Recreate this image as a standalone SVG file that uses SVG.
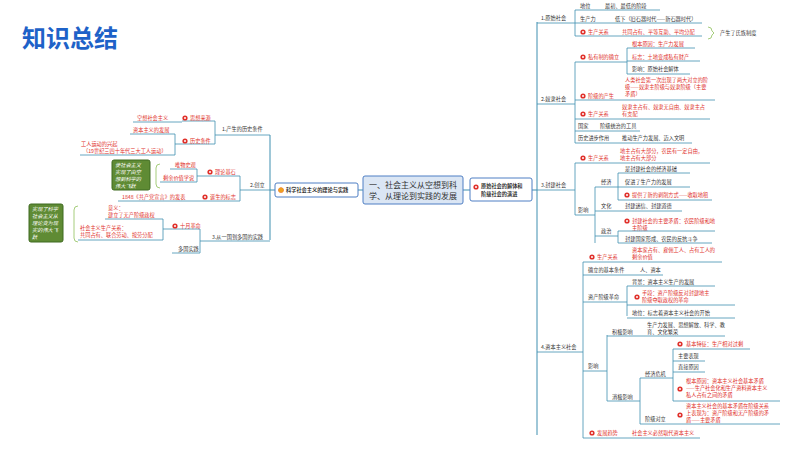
<svg xmlns="http://www.w3.org/2000/svg" width="800" height="450" viewBox="0 0 800 450">
<style>
text{font-family:"Noto Sans CJK SC","Noto Sans",sans-serif;font-size:5.2px;fill:#333}
.r{fill:#e0302a}
.c line,.c path,.c polyline{stroke:#3f8fb0;stroke-width:1;fill:none}
.u{stroke:#3f8fb0;stroke-width:0.8}
.g{fill:#5f8b34;stroke:#3f6a20;stroke-width:1}
.gt{fill:#fff;font-style:italic}
.br{fill:none;stroke:#8fc05a;stroke-width:0.8}
</style>
<defs>
<g id="ic"><circle r="2.6" fill="#e0302a"/><circle r="1" fill="#fff"/></g>
</defs>
<rect width="800" height="450" fill="#fff"/>
<text x="22" y="47" style="font-size:24px;font-weight:bold;fill:#1e62c8">知识总结</text>

<g class="c">
<line x1="358" y1="190" x2="363" y2="190"/><line x1="463" y1="190" x2="470" y2="190"/>
<line x1="532" y1="190" x2="537" y2="190"/>
<line x1="537" y1="22" x2="537" y2="435"/>
<!-- left -->
<line x1="270" y1="190" x2="275" y2="190"/>
<line x1="270" y1="135" x2="270" y2="240"/>
</g>

<g id="center"><rect x="363" y="176" width="100" height="28" rx="2" fill="#dbe6f4" stroke="#4f7fc4"/>
<text x="413" y="188" text-anchor="middle" style="font-size:8px">一、社会主义从空想到科</text>
<text x="413" y="199" text-anchor="middle" style="font-size:8px">学、从理论到实践的发展</text></g>
<g id="left-main"><rect x="275" y="183" width="83" height="14" rx="2" fill="#fff" stroke="#4f7fc4"/>
<use href="#ic" x="281" y="190" style="fill:#f0a020"/><circle cx="281" cy="190" r="2.6" fill="#f0a020"/>
<text x="286" y="192" style="font-weight:bold">科学社会主义的理论与实践</text></g>
<g id="right-main"><rect x="470" y="178" width="62" height="23" rx="2" fill="#fff" stroke="#4f7fc4"/>
<use href="#ic" x="476" y="187"/>
<text x="481" y="188" style="font-weight:bold">原始社会的解体和</text><text x="481" y="196" style="font-weight:bold">阶级社会的演进</text></g>

<!-- LEFT BRANCHES -->
<g id="l1">
<text x="222" y="131">1.产生的历史条件</text><line class="u" x1="220" y1="135" x2="270" y2="135"/>
<polyline points="220,135 215,135 215,121 182,121" class="u" fill="none"/>
<polyline points="215,135 215,144 182,144" class="u" fill="none"/>
<use href="#ic" x="185" y="118"/><text x="190" y="120" class="r">思想来源</text>
<text x="137" y="120" class="r">空想社会主义</text><line class="u" x1="133" y1="122" x2="182" y2="122"/>
<use href="#ic" x="185" y="141"/><text x="190" y="143" class="r">历史条件</text>
<polyline points="182,144 175,144 175,134 130,134" class="u" fill="none"/>
<polyline points="175,144 175,155 80,155" class="u" fill="none"/>
<text x="133" y="132" class="r">资本主义的发展</text>
<text x="81" y="146" class="r">工人运动的兴起</text>
<text x="83" y="153" class="r">（19世纪三四十年代三大工人运动）</text>
</g>
<g id="l2">
<text x="250" y="187">2.创立</text><line class="u" x1="245" y1="190" x2="270" y2="190"/>
<polyline points="245,190 240,190 240,176 205,176" class="u" fill="none"/>
<polyline points="240,190 240,201 205,201" class="u" fill="none"/>
<use href="#ic" x="210" y="172"/><text x="215" y="174" class="r">理论基石</text>
<polyline points="205,176 197,176 197,169 170,169" class="u" fill="none"/>
<polyline points="197,176 197,182 160,182" class="u" fill="none"/>
<text x="175" y="167" class="r">唯物史观</text><text x="163" y="180" class="r">剩余价值学说</text>
<path class="br" d="M160,164 Q156,164 156,168 L156,184 Q156,188 160,188"/>
<rect class="g" x="112" y="160" width="38" height="30" rx="2"/>
<text x="115" y="167" class="gt">使社会主义</text><text x="115" y="174" class="gt">实现了由空</text><text x="115" y="181" class="gt">想到科学的</text><text x="115" y="188" class="gt">伟大飞跃</text>
<use href="#ic" x="205" y="197"/><text x="210" y="199" class="r">诞生的标志</text>
<text x="122" y="199" class="r">1848《共产党宣言》的发表</text><line class="u" x1="118" y1="201" x2="205" y2="201"/>
</g>
<g id="l3">
<text x="212" y="239">3.从一国到多国的实践</text><line class="u" x1="208" y1="241" x2="270" y2="241"/>
<polyline points="208,241 200,241 200,229 172,229" class="u" fill="none"/>
<polyline points="200,241 200,253 172,253" class="u" fill="none"/>
<use href="#ic" x="175" y="226"/><text x="180" y="228" class="r">十月革命</text>
<polyline points="172,229 163,229 163,219 105,219" class="u" fill="none"/>
<polyline points="163,229 163,240 78,240" class="u" fill="none"/>
<text x="108" y="210" class="r">意义：</text><text x="108" y="217" class="r">建立了无产阶级政权</text>
<text x="80" y="230" class="r">社会主义生产关系：</text><text x="80" y="237" class="r">共同占有、联合劳动、按劳分配</text>
<text x="178" y="251">多国实践</text>
<path class="br" d="M78,206 Q74,206 74,210 L74,238 Q74,242 78,242"/>
<rect class="g" x="29" y="204" width="34" height="38" rx="2"/>
<text x="32" y="211" class="gt">实现了科学</text><text x="32" y="218" class="gt">社会主义从</text><text x="32" y="225" class="gt">理论变为现</text><text x="32" y="232" class="gt">实的伟大飞</text><text x="32" y="239" class="gt">跃</text>
</g>

<!-- RIGHT -->
<g id="r1">
<text x="541" y="20">1.原始社会</text><line class="u" x1="537" y1="23" x2="575" y2="23"/>
<line class="u" x1="575" y1="10" x2="575" y2="36"/>
<text x="580" y="8">地位</text><text x="605" y="8">最初、最低的阶段</text><line class="u" x1="575" y1="10" x2="660" y2="10"/>
<text x="580" y="21">生产力</text><text x="615" y="21">低下（旧石器时代——新石器时代）</text><line class="u" x1="575" y1="23" x2="702" y2="23"/>
<use href="#ic" x="583" y="32"/><text x="588" y="34" class="r">生产关系</text><text x="622" y="34" class="r">共同占有、平等互助、平均分配</text><line class="u" x1="575" y1="36" x2="702" y2="36"/>
<path class="br" d="M708,27 Q712,27 712,31 L714,33 L712,35 Q712,39 708,39"/>
<text x="720" y="35">产生了氏族制度</text>
</g>
<g id="r2">
<text x="541" y="101">2.奴隶社会</text><line class="u" x1="537" y1="104" x2="575" y2="104"/>
<line class="u" x1="575" y1="62" x2="575" y2="143"/>
<use href="#ic" x="583" y="57"/><text x="588" y="59" class="r">私有制的确立</text><line class="u" x1="575" y1="62" x2="627" y2="62"/>
<line class="u" x1="627" y1="48" x2="627" y2="74"/>
<text x="632" y="46" class="r">根本原因：生产力发展</text><line class="u" x1="627" y1="48" x2="695" y2="48"/>
<text x="632" y="59" class="r">标志：土地变成私有财产</text><line class="u" x1="627" y1="61" x2="700" y2="61"/>
<text x="632" y="71">影响：原始社会解体</text><line class="u" x1="627" y1="74" x2="690" y2="74"/>
<use href="#ic" x="583" y="96"/><text x="588" y="98" class="r">阶级的产生</text>
<text x="625" y="82" class="r">人类社会第一次出现了两大对立的阶</text><text x="625" y="89" class="r">级——奴隶主阶级与奴隶阶级（主要</text><text x="625" y="96" class="r">矛盾）</text>
<line class="u" x1="575" y1="100" x2="715" y2="100"/>
<use href="#ic" x="583" y="114"/><text x="588" y="116" class="r">生产关系</text>
<text x="622" y="109" class="r">奴隶主占有、奴隶无自由、奴隶主占</text><text x="622" y="116" class="r">有支配</text>
<line class="u" x1="575" y1="119" x2="710" y2="119"/>
<text x="578" y="128">国家</text><text x="600" y="128">阶级统治的工具</text><line class="u" x1="575" y1="131" x2="640" y2="131"/>
<text x="578" y="140">历史进步作用</text><text x="622" y="140">推动生产力发展、迈入文明</text><line class="u" x1="575" y1="143" x2="692" y2="143"/>
</g>
<g id="r3">
<text x="541" y="187">3.封建社会</text><line class="u" x1="537" y1="190" x2="575" y2="190"/>
<line class="u" x1="575" y1="163" x2="575" y2="215"/>
<use href="#ic" x="583" y="158"/><text x="588" y="160" class="r">生产关系</text>
<text x="620" y="153" class="r">地主占有大部分，农民有一定自由，</text><text x="620" y="160" class="r">地主占有大部分</text>
<line class="u" x1="575" y1="163" x2="710" y2="163"/>
<text x="578" y="212">影响</text><line class="u" x1="575" y1="215" x2="595" y2="215"/>
<line class="u" x1="595" y1="187" x2="595" y2="243"/>
<text x="601" y="184">经济</text><line class="u" x1="595" y1="187" x2="618" y2="187"/>
<line class="u" x1="618" y1="173" x2="618" y2="200"/>
<text x="625" y="171">是封建社会的经济基础</text><line class="u" x1="618" y1="173" x2="690" y2="173"/>
<text x="625" y="184">促进了生产力的发展</text><line class="u" x1="618" y1="187" x2="690" y2="187"/>
<use href="#ic" x="627" y="195"/><text x="632" y="197" class="r">提供了新的剥削方式——收取地租</text><line class="u" x1="618" y1="200" x2="712" y2="200"/>
<text x="601" y="208">文化</text><text x="625" y="208">封建迷信、封建道德</text><line class="u" x1="595" y1="211" x2="682" y2="211"/>
<text x="601" y="233">政治</text><line class="u" x1="595" y1="236" x2="618" y2="236"/>
<line class="u" x1="618" y1="231" x2="618" y2="243"/>
<use href="#ic" x="627" y="221"/><text x="632" y="223" class="r">封建社会的主要矛盾：农民阶级和地</text><text x="632" y="230" class="r">主阶级</text><line class="u" x1="618" y1="231" x2="715" y2="231"/>
<text x="625" y="241">封建国家形成、农民的反抗斗争</text><line class="u" x1="618" y1="243" x2="712" y2="243"/>
</g>
<g id="r4">
<text x="541" y="349">4.资本主义社会</text><line class="u" x1="537" y1="352" x2="583" y2="352"/>
<line class="u" x1="583" y1="262" x2="583" y2="438"/>
<use href="#ic" x="592" y="257"/><text x="597" y="259" class="r">生产关系</text>
<text x="632" y="252" class="r">资本家占有、雇佣工人、占有工人的</text><text x="632" y="259" class="r">剩余价值</text>
<line class="u" x1="583" y1="262" x2="722" y2="262"/>
<text x="588" y="272">确立的基本条件</text><text x="640" y="272">人、资本</text><line class="u" x1="583" y1="275" x2="663" y2="275"/>
<text x="588" y="299">资产阶级革命</text><line class="u" x1="583" y1="302" x2="627" y2="302"/>
<line class="u" x1="627" y1="286" x2="627" y2="316"/>
<text x="632" y="284">背景：资本主义生产的发展</text><line class="u" x1="627" y1="286" x2="715" y2="286"/>
<use href="#ic" x="637" y="297"/><text x="642" y="295" class="r">手段：资产阶级反对封建地主</text><text x="642" y="302" class="r">阶级夺取政权的革命</text><line class="u" x1="627" y1="305" x2="735" y2="305"/>
<text x="632" y="315">地位：标志着资本主义社会的开始</text><line class="u" x1="627" y1="318" x2="735" y2="318"/>
<text x="588" y="368">影响</text><line class="u" x1="583" y1="371" x2="607" y2="371"/>
<line class="u" x1="607" y1="335" x2="607" y2="401"/>
<text x="612" y="334">积极影响</text><line class="u" x1="607" y1="336" x2="645" y2="336"/>
<text x="647" y="327">生产力发展、思想解放、科学、教</text><text x="647" y="334">育、文化繁荣</text><line class="u" x1="645" y1="336" x2="725" y2="336"/>
<text x="612" y="399">消极影响</text><line class="u" x1="607" y1="401" x2="640" y2="401"/>
<line class="u" x1="640" y1="378" x2="640" y2="424"/>
<text x="645" y="376">经济危机</text><line class="u" x1="640" y1="378" x2="673" y2="378"/>
<line class="u" x1="673" y1="349" x2="673" y2="401"/>
<use href="#ic" x="680" y="344"/><text x="686" y="346" class="r">基本特征：生产相对过剩</text><line class="u" x1="673" y1="349" x2="750" y2="349"/>
<text x="678" y="358">主要表现</text><line class="u" x1="673" y1="361" x2="705" y2="361"/>
<text x="678" y="369">直接原因</text><line class="u" x1="673" y1="372" x2="705" y2="372"/>
<use href="#ic" x="680" y="389"/><text x="686" y="383" class="r">根本原因：资本主义社会基本矛盾</text><text x="686" y="390" class="r">——生产社会化和生产资料资本主义</text><text x="686" y="397" class="r">私人占有之间的矛盾</text><line class="u" x1="673" y1="401" x2="780" y2="401"/>
<text x="645" y="421">阶级对立</text><line class="u" x1="640" y1="424" x2="673" y2="424"/>
<use href="#ic" x="680" y="415"/><text x="686" y="408" class="r">资本主义社会的基本矛盾在阶级关系</text><text x="686" y="415" class="r">上表现为：资产阶级和无产阶级的矛</text><text x="686" y="422" class="r">盾——主要矛盾</text><line class="u" x1="673" y1="424" x2="780" y2="424"/>
<use href="#ic" x="592" y="433"/><text x="597" y="435" class="r">发展趋势</text><text x="632" y="435" class="r">社会主义必然取代资本主义</text><line class="u" x1="583" y1="438" x2="700" y2="438"/>
</g>
</svg>
